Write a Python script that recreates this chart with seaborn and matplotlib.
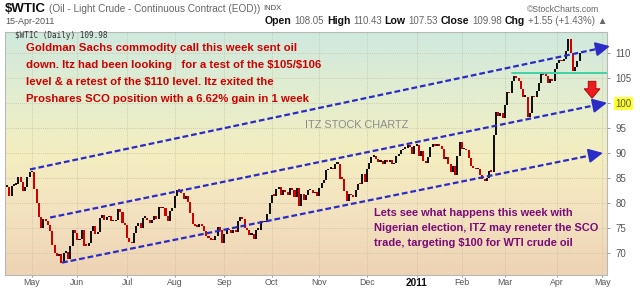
import numpy as np
import pandas as pd
import matplotlib
matplotlib.use("Agg")
import matplotlib.pyplot as plt
import seaborn as sns
from matplotlib.colors import LinearSegmentedColormap
from matplotlib.transforms import IdentityTransform

sns.set_theme(style="white")
plt.rcParams['font.family'] = ['Liberation Sans', 'DejaVu Sans']

# ---------------- data ----------------
holidays = ['2010-05-31', '2010-07-05', '2010-09-06', '2010-11-25', '2010-12-24',
            '2011-01-17', '2011-02-21', '2011-04-22']
first_day, axis_end_day = '2010-04-16', '2011-05-03'

closes = [
    # Apr 2010
    83.24, 81.45, 83.45, 83.68, 83.70, 85.12, 84.20, 82.44, 83.22, 85.17, 86.15,
    # May
    86.19, 82.74, 79.97, 77.11, 75.11, 76.80, 76.37, 75.65, 74.39, 71.61,
    70.08, 69.41, 69.87, 68.01, 70.04, 70.21, 68.75, 71.51, 74.55, 73.97,
    # Jun
    72.58, 72.86, 74.61, 71.51, 71.44, 71.99, 74.38, 75.48, 73.78, 74.12, 76.94,
    77.67, 76.67, 77.18, 77.31, 76.35, 76.35, 76.51, 78.86, 78.26, 75.94, 75.63,
    # Jul
    72.95, 72.14, 71.98, 74.07, 75.43, 76.09, 75.00, 77.04, 77.07, 76.62, 76.01,
    76.54, 77.42, 76.75, 79.30, 78.98, 79.00, 77.50, 76.34, 78.36, 78.95,
    # Aug
    81.34, 82.55, 82.49, 81.95, 80.70, 81.48, 80.25, 78.02, 75.74, 75.39, 75.24,
    75.77, 75.42, 74.43, 73.46, 73.10, 72.63, 72.52, 73.36, 75.17, 74.70, 71.92,
    # Sep
    73.91, 74.91, 74.60, 74.09, 74.67, 74.25, 76.45, 77.19, 76.80, 75.02, 74.57,
    73.66, 73.86, 72.86, 74.71, 74.71, 76.49, 76.18, 76.18, 77.86, 79.97,
    # Oct
    81.58, 81.47, 82.82, 83.23, 81.67, 82.66, 82.21, 81.67, 83.01, 82.69, 81.25,
    83.08, 79.49, 81.77, 80.56, 81.69, 82.52, 82.55, 81.94, 82.18, 81.43,
    # Nov
    82.95, 83.90, 84.69, 86.49, 86.85, 87.06, 86.72, 87.81, 87.81, 84.88, 84.86,
    82.34, 80.44, 81.85, 81.51, 81.25, 82.50, 83.86, 83.76, 85.73, 84.11,
    # Dec
    86.75, 88.00, 89.19, 89.38, 88.69, 88.28, 88.37, 87.79, 88.61, 88.28, 88.62,
    87.70, 88.02, 89.37, 89.82, 90.48, 90.83, 91.00, 91.49, 91.12, 89.84, 91.38,
    # Jan 2011
    91.55, 89.38, 90.30, 88.38, 88.03, 89.25, 91.11, 91.86, 91.40, 91.54,
    91.38, 90.86, 88.86, 89.11, 87.87, 86.19, 87.33, 85.64, 89.34, 92.19,
    # Feb
    90.77, 90.86, 90.54, 89.03, 87.48, 86.94, 86.71, 86.73, 85.58, 84.81,
    84.32, 84.99, 86.36, 86.20, 93.57, 98.10, 97.28, 97.88, 96.97,
    # Mar
    99.63, 102.23, 101.91, 104.42, 105.44, 105.02, 104.38, 102.70, 101.16, 101.19,
    97.18, 97.98, 101.42, 101.07, 102.33, 104.00, 105.75, 105.60, 105.40, 103.98,
    104.79, 104.27, 106.72,
    # Apr 2011
    107.94, 108.47, 108.34, 108.83, 110.30, 112.79, 109.92, 106.25, 107.11, 108.43, 109.98,
]

# trend channel lines (trading-day offset, price)
trend_x0 = [10.1, 19.0, 24.3]
trend_y0 = [86.7, 77.1, 68.1]
trend_x1 = [266.4, 265.1, 263.3]
trend_y1 = [111.3, 100.0, 90.0]
support_level, support_x0, support_x1 = 105.9, 223.0, 265.1
drop_arrow_x, drop_arrow_top, drop_arrow_bottom = 258.5, 104.3, 100.9

ytick_vals = [70, 75, 80, 85, 90, 95, 100, 105, 110]

# ---------------- layout ----------------
W, H = 640, 288
fig = plt.figure(figsize=(W / 100, H / 100), dpi=100)
fig.patch.set_facecolor('white')
L, R, B, T = 5, 607, 275, 32
ax = fig.add_axes([L / W, (H - B) / H, (R - L) / W, (B - T) / H])

dates = pd.bdate_range(first_day, axis_end_day)
dates = dates[~dates.isin(pd.to_datetime(holidays))]
n = len(closes)
idx = np.arange(n)

xmin, xmax = -0.93, 265.1
ymin, ymax = 65.63, 114.13

# background gradient
cmap = LinearSegmentedColormap.from_list(
    'bg', [(0.0, '#cfe9de'), (0.25, '#e2edd0'), (0.5, '#f4eec0'),
           (0.75, '#f3e2bf'), (1.0, '#eed3b4')])
grad = np.linspace(0, 1, 256).reshape(-1, 1)
ax.imshow(grad, aspect='auto', cmap=cmap, extent=[xmin, xmax, ymin, ymax],
          origin='upper', zorder=0, interpolation='bilinear')

# grid
ds = pd.Series(dates)
month_first = ds.groupby([ds.dt.year, ds.dt.month]).head(1)
month_first = month_first[month_first >= pd.Timestamp('2010-05-01')]
mpos = list(month_first.index)
mlab = ['2011' if (d.month == 1) else d.strftime('%b') for d in month_first]
for p in mpos:
    ax.axvline(p, color='#c4c0a4', lw=0.6, ls=(0, (1, 1.5)), zorder=1)
for v in ytick_vals:
    ax.axhline(v, color='#c4c0a4', lw=0.6, ls=(0, (1, 1.5)), zorder=1)

# candles (open = previous close)
c = np.array(closes)
o = np.r_[c[0], c[:-1]]
lo = np.minimum(o, c)
hgt = np.maximum(np.abs(c - o), 0.3)
cols = np.where(c < o, '#d00000', '#111111')
ax.bar(idx, hgt, bottom=lo, width=0.9, color=cols, linewidth=0, zorder=3)

# trend channel
blue = '#2b2bc8'
for x0, y0, x1, y1 in zip(trend_x0, trend_y0, trend_x1, trend_y1):
    f = 1 - 4.0 / (x1 - x0)
    xe, ye = x0 + (x1 - x0) * f, y0 + (y1 - y0) * f
    ax.plot([x0, xe], [y0, ye], color=blue, lw=1.6, dashes=(2.6, 1.3),
            zorder=4, clip_on=False)
    ax.annotate('', xy=(x1, y1), xytext=(xe, ye), annotation_clip=False,
                arrowprops=dict(arrowstyle='-|>,head_length=0.7,head_width=0.35',
                                color=blue, lw=1.5, shrinkA=0, shrinkB=0), zorder=4)

ax.plot([support_x0, support_x1], [support_level, support_level],
        color='#3fd3a4', lw=1.4, zorder=4)

ax.arrow(drop_arrow_x, drop_arrow_top, 0, drop_arrow_bottom - drop_arrow_top,
         width=3.4, head_width=7.0, head_length=1.9, length_includes_head=True,
         fc='#ee1c1c', ec='#a00000', lw=0.6, zorder=5)

ax.set_xlim(xmin, xmax)
ax.set_ylim(ymin, ymax)

# axes styling
for s in ax.spines.values():
    s.set_color('#b8b8b8')
    s.set_linewidth(0.8)
ax.yaxis.tick_right()
ax.set_yticks(ytick_vals)
ylabels = ax.set_yticklabels([str(v) for v in ytick_vals])
ax.tick_params(axis='y', length=2.5, width=0.6, color='#888888', pad=3.5,
               labelsize=7, labelcolor='#555555', right=True)
for t in ylabels:
    if t.get_text() == '100':
        t.set_bbox(dict(facecolor='#ffff2a', edgecolor='none', pad=1.2))
ax.set_xticks(mpos)
xlabels = ax.set_xticklabels(mlab)
ax.tick_params(axis='x', length=1.5, width=0.6, color='#888888', pad=0.8,
               labelsize=6.3, labelcolor='#555555', bottom=True)
for t in xlabels:
    if t.get_text() == '2011':
        t.set_fontweight('bold')
        t.set_color('#111111')
        t.set_fontsize(7.2)

# ---------------- texts ----------------
fig.canvas.draw()
rend = fig.canvas.get_renderer()
ID = IdentityTransform()


def seq(x, y, parts, align='left', gap=3.0):
    objs = []
    for s, kw in parts:
        objs.append(fig.text(0, 0, s, transform=ID, va='center', ha='left', **kw))
    widths = [t.get_window_extent(renderer=rend).width for t in objs]
    total = sum(widths) + gap * (len(objs) - 1)
    cx = x - total if align == 'right' else x
    for t, w in zip(objs, widths):
        t.set_position((cx, H - y))
        cx += w + gap


seq(5, 9, [('$WTIC', dict(fontsize=9.5, fontweight='bold', color='#111111')),
           ('(Oil - Light Crude - Continuous Contract (EOD))', dict(fontsize=7.2, color='#666666')),
           ('INDX', dict(fontsize=5.5, color='#444444'))], gap=3)
fig.text(599, H - 9, '\u00a9StockCharts.com', transform=ID, ha='right', va='center',
         fontsize=6.2, color='#666666')
fig.text(5, H - 21, '15-Apr-2011', transform=ID, ha='left', va='center',
         fontsize=6.5, color='#555555')
bold = dict(fontsize=7.6, fontweight='bold', color='#111111')
reg = dict(fontsize=7.0, color='#666666')
seq(607, 21, [('Open', bold), ('108.05', reg), ('High', bold), ('110.43', reg),
              ('Low', bold), ('107.53', reg), ('Close', bold), ('109.98', reg),
              ('Chg', bold), ('+1.55 (+1.43%) \u25b2', reg)], align='right', gap=2.8)
fig.text(15, H - 36, '$WTIC (Daily) 109.98', transform=ID, ha='left', va='center',
         fontsize=5.6, color='#333333', family='DejaVu Sans Mono')

red_lines = ['Goldman Sachs commodity call this week sent oil',
             'down. Itz had been looking   for a test of the \\$105/\\$106',
             'level & a retest of the \\$110 level. Itz exited the',
             'Proshares SCO position with a 6.62% gain in 1 week']
for k, s in enumerate(red_lines):
    fig.text(26, H - (48 + 17 * k), s, transform=ID, ha='left', va='center',
             fontsize=8.2, fontweight='bold', color='#d00000')

fig.text(305, H - 125, 'ITZ STOCK CHARTZ', transform=ID, ha='left', va='center',
         fontsize=7.8, color='#8a8a8a')

purple_lines = ['Lets see what happens this week with',
                'Nigerian election, ITZ may reneter the SCO',
                'trade, targeting \\$100 for WTI crude oil']
for k, s in enumerate(purple_lines):
    fig.text(374, H - (213 + 15 * k), s, transform=ID, ha='left', va='center',
             fontsize=7.9, fontweight='bold', color='#7a0a78')

fig.savefig('out.png', dpi=100)
